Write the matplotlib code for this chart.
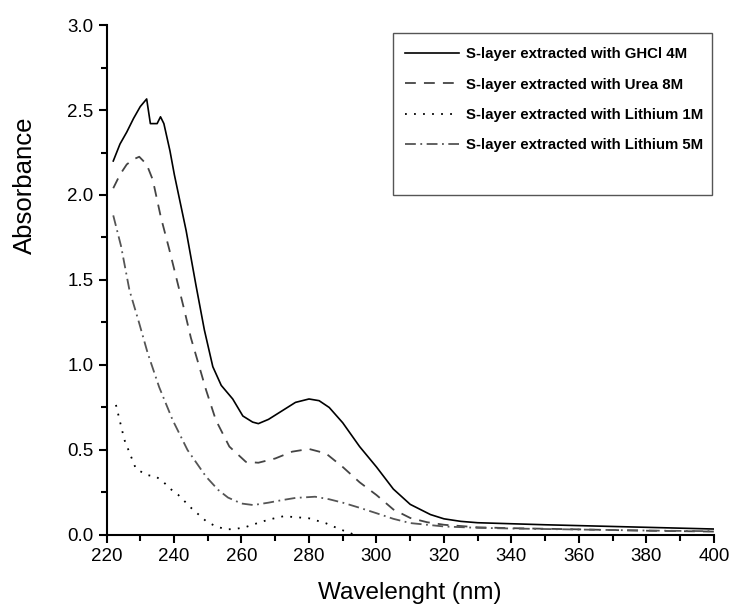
import matplotlib
matplotlib.use("Agg")
from matplotlib import pyplot as plt
from matplotlib.patches import Rectangle
from matplotlib.ticker import MultipleLocator

plt.rcParams['font.family'] = ['Liberation Sans', 'DejaVu Sans']

# S-layer extracted with GHCl 4M
ghcl_x = [222, 224, 226, 228, 230, 231.9, 233, 235, 236, 237, 238.8, 240.1, 243.6, 246.5,
          249, 251.5, 254, 257.4, 260.4, 263.3, 265, 268, 272, 276, 280, 283,
          286, 290, 295, 300, 305, 310, 316, 320, 325, 330, 340, 350, 360, 370, 380, 390, 400]
ghcl_y = [2.20, 2.30, 2.37, 2.45, 2.52, 2.565, 2.42, 2.42, 2.46, 2.42, 2.26, 2.12, 1.79, 1.47,
          1.206, 0.99, 0.88, 0.80, 0.70, 0.664, 0.655, 0.68, 0.73, 0.78, 0.80, 0.79,
          0.75, 0.66, 0.52, 0.40, 0.27, 0.18, 0.12, 0.095, 0.08, 0.072, 0.066, 0.06, 0.055, 0.05,
          0.045, 0.04, 0.035]

# Urea 8M
urea_x = [222, 224, 226, 228, 229.7, 231.9, 233.7, 236.1, 238.6, 241.1, 243.1, 245, 247.5,
          249.5, 252.4, 256.4, 261.3, 265, 270, 275, 280, 285, 290, 295, 300, 305, 310, 315,
          320, 330, 340, 360, 380, 400]
urea_y = [2.04, 2.12, 2.18, 2.21, 2.225, 2.18, 2.09, 1.87, 1.68, 1.48, 1.32, 1.16, 0.99,
          0.853, 0.676, 0.52, 0.43, 0.425, 0.45, 0.49, 0.506, 0.48, 0.40, 0.31, 0.235, 0.15,
          0.10, 0.075, 0.06, 0.045, 0.04, 0.033, 0.025, 0.02]

# Lithium 1M
li1_x = [222.8, 225.3, 228.7, 231.9, 234.7, 236.8, 239, 241.3, 245.2, 249.7, 252.6, 255.6, 258,
         261, 264, 268, 272.4, 276, 280, 285, 289, 291, 293]
li1_y = [0.765, 0.56, 0.39, 0.353, 0.343, 0.313, 0.27, 0.235, 0.157, 0.078, 0.049, 0.033,
         0.035, 0.045, 0.065, 0.09, 0.11, 0.105, 0.098, 0.069, 0.035, 0.02, 0.005]

# Lithium 5M
li5_x = [222, 224.3, 226.8, 229.7, 232.2, 235.6, 239.6, 244, 249.5, 253.1, 256, 260, 263.5,
         268, 272, 276, 281.8, 286, 290, 295, 300, 305, 310, 320, 330, 340, 360, 380, 400]
li5_y = [1.88, 1.70, 1.44, 1.245, 1.07, 0.87, 0.676, 0.50, 0.343, 0.265, 0.22, 0.185,
         0.176, 0.19, 0.205, 0.218, 0.225, 0.21, 0.19, 0.16, 0.128, 0.095, 0.07, 0.05, 0.042,
         0.038, 0.032, 0.026, 0.022]

labels = ["S-layer extracted with GHCl 4M", "S-layer extracted with Urea 8M",
          "S-layer extracted with Lithium 1M", "S-layer extracted with Lithium 5M"]

fig = plt.figure(figsize=(7.33, 6.10), dpi=100)
ax = fig.add_axes([0.1453, 0.123, 0.8287, 0.836])

ax.plot(ghcl_x, ghcl_y, color="black", lw=1.2, label=labels[0])
ax.plot(urea_x, urea_y, color="#444444", lw=1.3, dashes=(6, 4.5), label=labels[1])
ax.plot(li1_x, li1_y, color="black", lw=1.3, dashes=(1, 4), label=labels[2])
ax.plot(li5_x, li5_y, color="#555555", lw=1.3, dashes=(6, 2.5, 1, 2.5), label=labels[3])

ax.set_xlim(220, 400)
ax.set_ylim(0, 3.0)
ax.xaxis.set_major_locator(MultipleLocator(20))
ax.xaxis.set_minor_locator(MultipleLocator(10))
ax.yaxis.set_major_locator(MultipleLocator(0.5))
ax.yaxis.set_minor_locator(MultipleLocator(0.25))
ax.yaxis.set_major_formatter(plt.FormatStrFormatter("%.1f"))
ax.tick_params(which="major", direction="out", length=6, width=1.5, labelsize=13.5)
ax.tick_params(which="minor", direction="out", length=4, width=1.5)
ax.spines["top"].set_visible(False)
ax.spines["right"].set_visible(False)
ax.spines["left"].set_linewidth(1.5)
ax.spines["bottom"].set_linewidth(1.5)

ax.set_xlabel("Wavelenght (nm)", fontsize=17.5, labelpad=12)
ax.set_ylabel("Absorbance", fontsize=18.5)
ax.yaxis.set_label_coords(-0.1144, 0.686)

ax.add_patch(Rectangle((0.4716, 0.667), 0.525, 0.317, transform=ax.transAxes,
                       fill=False, edgecolor="#555555", lw=1.0, clip_on=False))
ax.legend(loc="upper left", bbox_to_anchor=(0.4914, 0.956), frameon=False,
          prop={"weight": "bold", "size": 10.8}, handlelength=3.6, labelspacing=1.08,
          handletextpad=0.45, borderpad=0, borderaxespad=0)

fig.savefig("out.png", dpi=100)
